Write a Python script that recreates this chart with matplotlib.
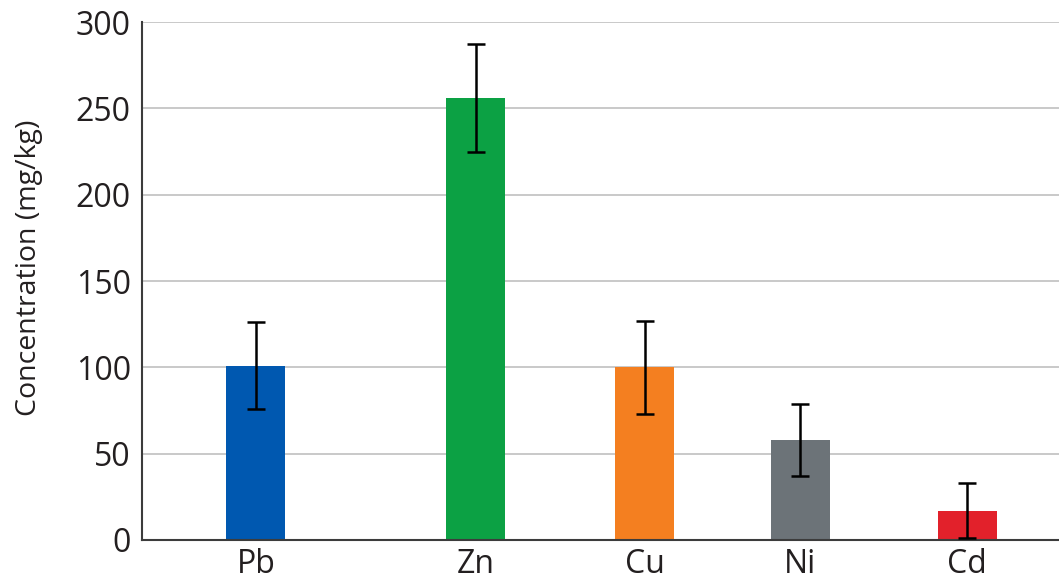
import matplotlib.pyplot as plt

plt.rcParams['font.family'] = ['Open Sans', 'DejaVu Sans']

metals = ["Pb", "Zn", "Cu", "Ni", "Cd"]
concentration = [101, 256, 100, 58, 17]
error = [25, 31, 27, 21, 16]
colors = ["#0058b0", "#0ca144", "#f47f20", "#6c7378", "#e2212b"]

# uneven spacing of the bars along the axis
xpos = [0, 1.0, 1.768, 2.473, 3.232]

fig = plt.figure(figsize=(10.59, 5.8), dpi=100)
ax = fig.add_axes([0.134, 0.069, 0.866, 0.893])

ax.bar(xpos, concentration, width=0.268, color=colors, zorder=2)
ax.errorbar(xpos, concentration, yerr=error, fmt="none", ecolor="black",
            elinewidth=1.8, capsize=6.5, capthick=1.8, zorder=3)

ax.set_xlim(-0.518, 3.65)
ax.set_ylim(0, 300)
ax.set_yticks([0, 50, 100, 150, 200, 250, 300])
ax.set_xticks(xpos)
ax.set_xticklabels(metals)
ax.tick_params(axis="both", length=0, labelsize=23, colors="#231f20", pad=8)
ax.tick_params(axis="x", pad=6)

ax.yaxis.grid(True, color="#c9c9c9", linewidth=1.4, zorder=0)
ax.set_axisbelow(True)

for side in ["top", "right"]:
    ax.spines[side].set_visible(False)
for side in ["left", "bottom"]:
    ax.spines[side].set_color("#3c3c3c")
    ax.spines[side].set_linewidth(1.5)

ax.set_ylabel("Concentration (mg/kg)", fontsize=20.5, color="#231f20")
ax.yaxis.set_label_coords(-0.108, 0.525)

fig.savefig("out.png", dpi=100)
